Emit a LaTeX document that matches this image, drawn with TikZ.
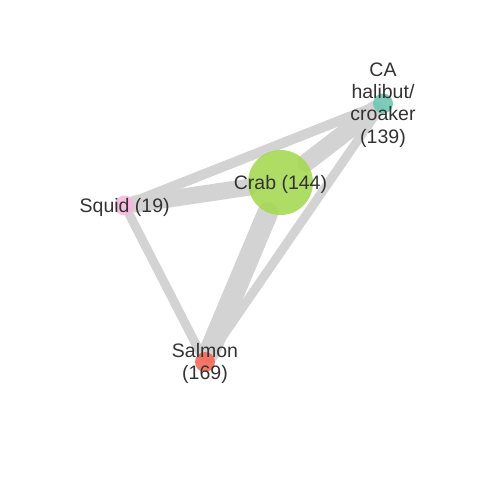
\documentclass[tikz,border=0pt]{standalone}
\usepackage{fontspec}
\setmainfont{Liberation Sans}
\pgfdeclarelayer{edgelayer}
\pgfsetlayers{edgelayer,main}
\definecolor{edgec}{RGB}{211,211,211}
\definecolor{txt}{RGB}{51,51,51}
\definecolor{crabc}{RGB}{166,216,84}
\definecolor{cac}{RGB}{110,199,177}
\definecolor{squidc}{RGB}{246,185,222}
\definecolor{salmonc}{RGB}{245,103,87}
\begin{document}
\begin{tikzpicture}[x=1pt,y=-1pt,
  fishdot/.style={circle,inner sep=0pt,minimum size=#1,fill opacity=0.9,draw=none},
  lbl/.style={align=center,text=txt,font=\fontsize{19.5}{22.3}\selectfont,inner sep=0pt,yshift=-1.5pt},
  link/.style={draw=edgec,line cap=round,line width=#1}]
\useasboundingbox (0,0) rectangle (480,480);
\node[fishdot=20pt,fill=cac] (ca) at (383,103.5) {};
\node[fishdot=65pt,fill=crabc] (crab) at (280.5,182.5) {};
\node[fishdot=20pt,fill=squidc] (squid) at (124.7,205.5) {};
\node[fishdot=20pt,fill=salmonc] (salmon) at (205,362) {};
\begin{pgfonlayer}{edgelayer}
\draw[link=10pt] (squid) -- (ca);
\draw[link=17pt] (squid) -- (crab);
\draw[link=18pt] (crab) -- (ca);
\draw[link=21pt] (crab) -- (salmon);
\draw[link=9pt] (ca) -- (salmon);
\draw[link=9pt] (squid) -- (salmon);
\end{pgfonlayer}
\node[lbl] (cal) at (ca) {CA\\halibut/\\croaker\\(139)};
\node[lbl] (crabl) at (crab) {Crab (144)};
\node[lbl] (squidl) at (squid) {Squid (19)};
\node[lbl] (salmonl) at (salmon) {Salmon\\(169)};
\end{tikzpicture}
\end{document}
